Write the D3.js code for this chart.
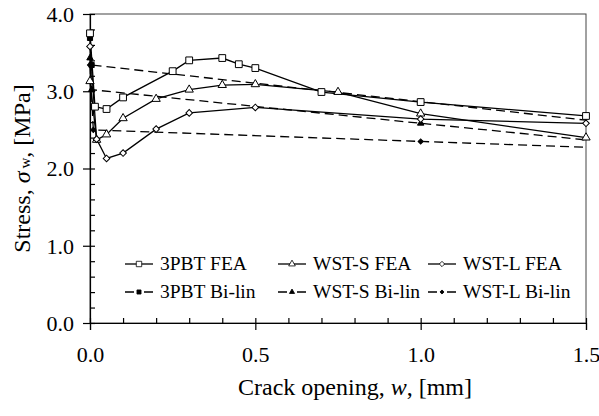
<!DOCTYPE html>
<html>
<head>
<meta charset="utf-8">
<script src="https://cdn.jsdelivr.net/npm/d3@7"></script>
<style>
	body{margin:0;background:#fff;}
</style>
</head>
<body>
<div id="chart"></div>
<script>
// crack opening w [mm], stress [MPa]
var pbtFea = [[0,3.75],[0.015,2.80],[0.05,2.77],[0.1,2.92],[0.25,3.26],[0.3,3.40],[0.4,3.43],[0.45,3.35],[0.5,3.30],[0.7,2.99],[1.0,2.86],[1.5,2.68]];
var wstsFea = [[0,3.13],[0.02,2.37],[0.05,2.44],[0.1,2.65],[0.2,2.90],[0.3,3.02],[0.4,3.08],[0.5,3.09],[0.75,2.99],[1.0,2.71],[1.5,2.40]];
var wstlFea = [[0,3.58],[0.02,2.38],[0.05,2.13],[0.1,2.20],[0.2,2.51],[0.3,2.72],[0.5,2.79],[1.0,2.64],[1.5,2.585]];
var pbtBilin = [[0,3.69],[0.005,3.34],[1.0,2.865],[1.5,2.625]];
var wstsBilin = [[0,3.43],[0.005,3.02],[1.0,2.585],[1.5,2.37]];
var wstlBilin = [[0,3.34],[0.01,2.50],[1.0,2.35],[1.5,2.275]];

var seriesNames = ["3PBT FEA","WST-S FEA","WST-L FEA","3PBT Bi-lin","WST-S Bi-lin","WST-L Bi-lin"];
var xTicks = [0,0.5,1.0,1.5];
var yTicks = [0,1,2,3,4];

(function(){
	var width = 599,
	height = 416;
	var left = 90, top = 14, right = 586, bottom = 323;
	var font = "Liberation Serif";

	var svg = d3.select("#chart")
	.append("svg")
	.attr("width",width)
	.attr("height",height)

	svg.append("rect").attr("width",width).attr("height",height).attr("fill","#fff")

	var x = d3.scaleLinear().domain([0,1.5]).range([left,right])
	var y = d3.scaleLinear().domain([0,4]).range([bottom,top])

	// plot area frame
	svg.append("rect")
		.attr("x",left).attr("y",top)
		.attr("width",right-left).attr("height",bottom-top)
		.attr("fill","none")
		.attr("stroke","#444")
		.attr("stroke-width",1)

	// x axis: major ticks out, major+minor ticks in
	var xAxis = svg.append("g")
		.attr("transform","translate(0," + bottom + ")")
		.call(d3.axisBottom(x).tickValues(xTicks).tickSize(7).tickFormat(d3.format(".1f")))
	xAxis.selectAll("text").attr("y",39).attr("dy",0)
	svg.append("g")
		.attr("transform","translate(0," + bottom + ")")
		.call(d3.axisTop(x).tickValues(d3.range(0,1.55,0.1)).tickSize(5).tickFormat(""))
		.select(".domain").remove()

	var yAxis = svg.append("g")
		.attr("transform","translate(" + left + ",0)")
		.call(d3.axisLeft(y).tickValues(yTicks).tickSize(7).tickPadding(9).tickFormat(d3.format(".1f")))
	yAxis.selectAll("text").attr("dy","0.34em")
	svg.append("g")
		.attr("transform","translate(" + left + ",0)")
		.call(d3.axisRight(y).tickValues(d3.range(0,4.1,0.2)).tickSize(5).tickFormat(""))
		.select(".domain").remove()

	svg.selectAll(".domain,.tick line").attr("stroke","#000").attr("stroke-width",1.2)
	svg.selectAll(".tick text").style("font-family",font).style("font-size","22px").attr("fill","#000")

	// titles
	svg.append("text")
		.attr("x",355).attr("y",395)
		.attr("text-anchor","middle")
		.style("font-family",font)
		.style("font-size","24px")
		.html("Crack opening, <tspan font-style='italic'>w</tspan>, [mm]")

	var yt = svg.append("text")
		.attr("transform","translate(30," + ((top+bottom)/2) + ") rotate(-90)")
		.attr("text-anchor","middle")
		.style("font-family",font)
		.style("font-size","24px")
	yt.append("tspan").text("Stress, ")
	yt.append("tspan").attr("font-style","italic").text("σ")
	yt.append("tspan").attr("font-size","15px").attr("dx",3).text("w")
	yt.append("tspan").text(", [MPa]")

	var series = [
		{name:seriesNames[0],data:pbtFea,sym:"square",filled:false,dash:null,size:46},
		{name:seriesNames[1],data:wstsFea,sym:"triangle",filled:false,dash:null,size:30},
		{name:seriesNames[2],data:wstlFea,sym:"diamond",filled:false,dash:null,size:22},
		{name:seriesNames[3],data:pbtBilin,sym:"square",filled:true,dash:"9,5",size:26},
		{name:seriesNames[4],data:wstsBilin,sym:"triangle",filled:true,dash:"9,5",size:18},
		{name:seriesNames[5],data:wstlBilin,sym:"diamond",filled:true,dash:"9,5",size:13}
	]

	function symbolPath(s){
		var type = s.sym=="triangle" ? d3.symbolTriangle : d3.symbolSquare;
		return d3.symbol().type(type).size(s.size)();
	}
	function symbolRot(s){ return s.sym=="diamond" ? " rotate(45)" : ""; }

	var line = d3.line()
		.x(function(d){ return x(d[0]); })
		.y(function(d){ return y(d[1]); })

	// dashed first, then solid
	var order = [3,4,5,0,1,2];
	order.forEach(function(i){
		var s = series[i];
		svg.append("path")
			.datum(s.data)
			.attr("d",line)
			.attr("fill","none")
			.attr("stroke","#000")
			.attr("stroke-width",1.3)
			.attr("stroke-dasharray",s.dash)
	})
	order.forEach(function(i){
		var s = series[i];
		// bi-linear fits carry no marker at the end of the axis
		var pts = s.filled ? s.data.filter(function(d){ return d[0] < 1.5; }) : s.data;
		svg.selectAll(".m" + i)
			.data(pts)
			.enter().append("path")
			.attr("class","m" + i)
			.attr("d",symbolPath(s))
			.attr("transform",function(d){ return "translate(" + x(d[0]) + "," + y(d[1]) + ")" + symbolRot(s); })
			.attr("fill",s.filled ? "#000" : "#fff")
			.attr("stroke","#000")
			.attr("stroke-width",1)
	})

	// legend
	var colX = [125,278,428];
	var rowY = [264,292];
	series.forEach(function(s,i){
		var lx = colX[i%3], ly = rowY[Math.floor(i/3)];
		var g = svg.append("g").attr("transform","translate(" + lx + "," + ly + ")")
		g.append("line")
			.attr("x1",0).attr("x2",28)
			.attr("stroke","#000").attr("stroke-width",1.3)
			.attr("stroke-dasharray",s.dash ? "9,10,9" : null)
		g.append("path")
			.attr("d",symbolPath(s))
			.attr("transform","translate(14,0)" + symbolRot(s) + " scale(0.8)")
			.attr("fill",s.filled ? "#000" : "#fff")
			.attr("stroke","#000")
		g.append("text")
			.attr("x",35).attr("y",6)
			.style("font-family",font)
			.style("font-size","19.5px")
			.attr("fill","#000")
			.text(s.name)
	})
})();
</script>
</body>
</html>
